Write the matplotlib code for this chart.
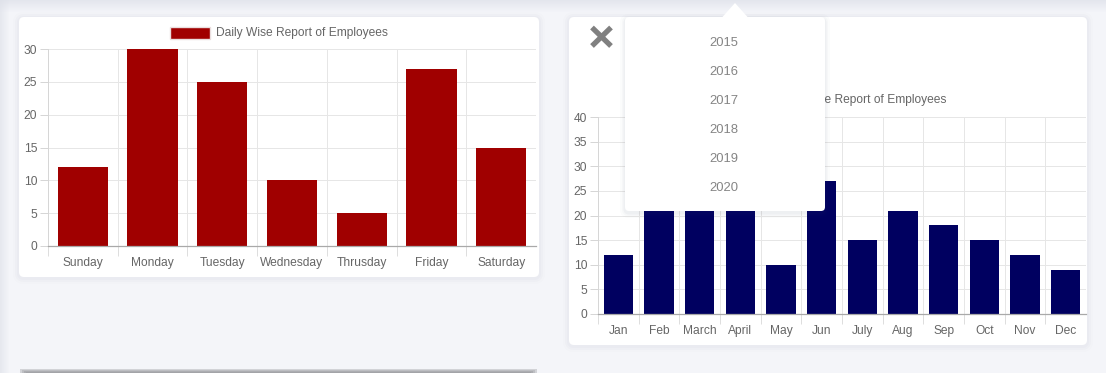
import numpy as np
import matplotlib.pyplot as plt
from matplotlib.patches import FancyBboxPatch, Rectangle, Polygon

plt.rcParams['font.family'] = ['Liberation Sans', 'DejaVu Sans']

W, H = 1106, 373

days = ['Sunday', 'Monday', 'Tuesday', 'Wednesday', 'Thrusday', 'Friday', 'Saturday']
day_counts = [12, 30, 25, 10, 5, 27, 15]

months = ['Jan', 'Feb', 'March', 'April', 'May', 'Jun', 'July', 'Aug', 'Sep', 'Oct', 'Nov', 'Dec']
# Feb / March / April are partly hidden by the dropdown in the screenshot
month_counts = [12, 30, 38, 25, 10, 27, 15, 21, 18, 15, 12, 9]

years = ['2015', '2016', '2017', '2018', '2019', '2020']

TICK_COLOR = '#666666'
GRID_COLOR = '#e6e6e6'
FS = 8.64  # 12px


def rect(x0, y0, x1, y1):
    # pixel box (origin top-left) -> figure fraction
    return [x0 / W, 1 - y1 / H, (x1 - x0) / W, (y1 - y0) / H]


def rounded(ax, x0, y0, x1, y1, r, **kw):
    ax.add_patch(FancyBboxPatch((x0, H - y1), x1 - x0, y1 - y0,
                                boxstyle=f'round,pad=0,rounding_size={r}', **kw))


def card(ax, x0, y0, x1, y1, r=5):
    for k, a in [(6, 0.012), (4, 0.018), (2, 0.025)]:
        rounded(ax, x0 - k, y0 - k + 1, x1 + k, y1 + k + 1, r + k, fc='#4a5575', ec='none', alpha=a)
    rounded(ax, x0, y0, x1, y1, r, fc='white', ec='none')


def legend(ax, x, y, color, text):
    ax.add_patch(Rectangle((x, H - y - 6), 40, 12, fc=color, ec='#eadede', lw=1))
    ax.text(x + 46, H - y, text, ha='left', va='center', fontsize=FS, color=TICK_COLOR)


def bar_chart(box, labels, values, color, ymax):
    ax = fig.add_axes(rect(*box), zorder=2)
    x = np.arange(len(labels))
    ax.bar(x, values, width=0.72, color=color, zorder=2)
    ax.set_xlim(-0.5, len(labels) - 0.5)
    ax.set_ylim(0, ymax)
    ax.set_facecolor('none')
    ax.set_axisbelow(True)

    ax.set_yticks(np.arange(0, ymax + 1, 5))
    ax.set_xticks(x - 0.5, [''] * len(labels))
    ax.set_xticks(x, labels, minor=True)
    ax.grid(True, which='major', color=GRID_COLOR, lw=0.72)

    ax.tick_params(axis='y', length=5.8, width=0.72, color='#d6d6d6', pad=2,
                   labelsize=FS, labelcolor=TICK_COLOR)
    ax.tick_params(axis='x', which='major', length=7.2, width=0.72, color='#dedede')
    ax.tick_params(axis='x', which='minor', length=0, pad=7.8,
                   labelsize=FS, labelcolor=TICK_COLOR)

    for s in ['top', 'right']:
        ax.spines[s].set_visible(False)
    ax.spines['left'].set_color('#d6d6d6')
    ax.spines['left'].set_linewidth(0.72)
    ax.spines['bottom'].set_color('#a9a9a9')
    ax.spines['bottom'].set_linewidth(0.9)
    return ax


fig = plt.figure(figsize=(W / 100, H / 100), dpi=100, facecolor='#f4f5f9')

# page background, cards and legends
bg = fig.add_axes([0, 0, 1, 1], zorder=0)
bg.set_xlim(0, W)
bg.set_ylim(0, H)
bg.axis('off')
# soft shading along the top and left edges of the page
for i in range(12):
    bg.add_patch(Rectangle((0, H - i - 1), W, 1, fc='#dde0e8', ec='none', alpha=0.7 * (1 - i / 12)))
for i in range(9):
    bg.add_patch(Rectangle((i, 0), 1, H, fc='#dde0e8', ec='none', alpha=0.6 * (1 - i / 9)))

card(bg, 19, 17, 539, 277)
card(bg, 569, 17, 1087, 345)

# top edge of the next card, cut off at the bottom of the screenshot
for i, c in enumerate(['#d2d3d7', '#bdbec2', '#acadb1', '#a3a4a8']):
    bg.add_patch(Rectangle((20 + 2 * i, 0), 517 - 4 * i, 4 - i, fc=c, ec='none'))

legend(bg, 170, 33, '#a00000', 'Daily Wise Report of Employees')
legend(bg, 713, 100, '#000060', 'Monthly Wise Report of Employees')

bar_chart((48, 49, 536, 246), days, day_counts, '#a00000', 30)
bar_chart((598, 117, 1086, 314), months, month_counts, '#000060', 40)

# year dropdown and close icon on top of the monthly chart
ov = fig.add_axes([0, 0, 1, 1], zorder=5)
ov.set_xlim(0, W)
ov.set_ylim(0, H)
ov.axis('off')
for k, a in [(5, 0.015), (3, 0.025), (1.5, 0.04)]:
    rounded(ov, 625 - k, 17 - k + 2, 825 + k, 211 + k + 2, 4 + k, fc='#3a4560', ec='none', alpha=a)
rounded(ov, 625, 17, 825, 211, 4, fc='white', ec='none')
ov.add_patch(Polygon([(722, H - 17.5), (735, H - 3), (748, H - 17.5)], closed=True,
                     fc='white', ec='none'))
for i, yr in enumerate(years):
    ov.text(724, H - (43 + 29 * i), yr, ha='center', va='center', fontsize=9.4, color='#858585')

ov.plot([592, 611], [H - 27.5, H - 46], color='#808080', lw=3.8, solid_capstyle='butt')
ov.plot([611, 592], [H - 27.5, H - 46], color='#808080', lw=3.8, solid_capstyle='butt')

fig.savefig('out.png', dpi=100, facecolor=fig.get_facecolor())
